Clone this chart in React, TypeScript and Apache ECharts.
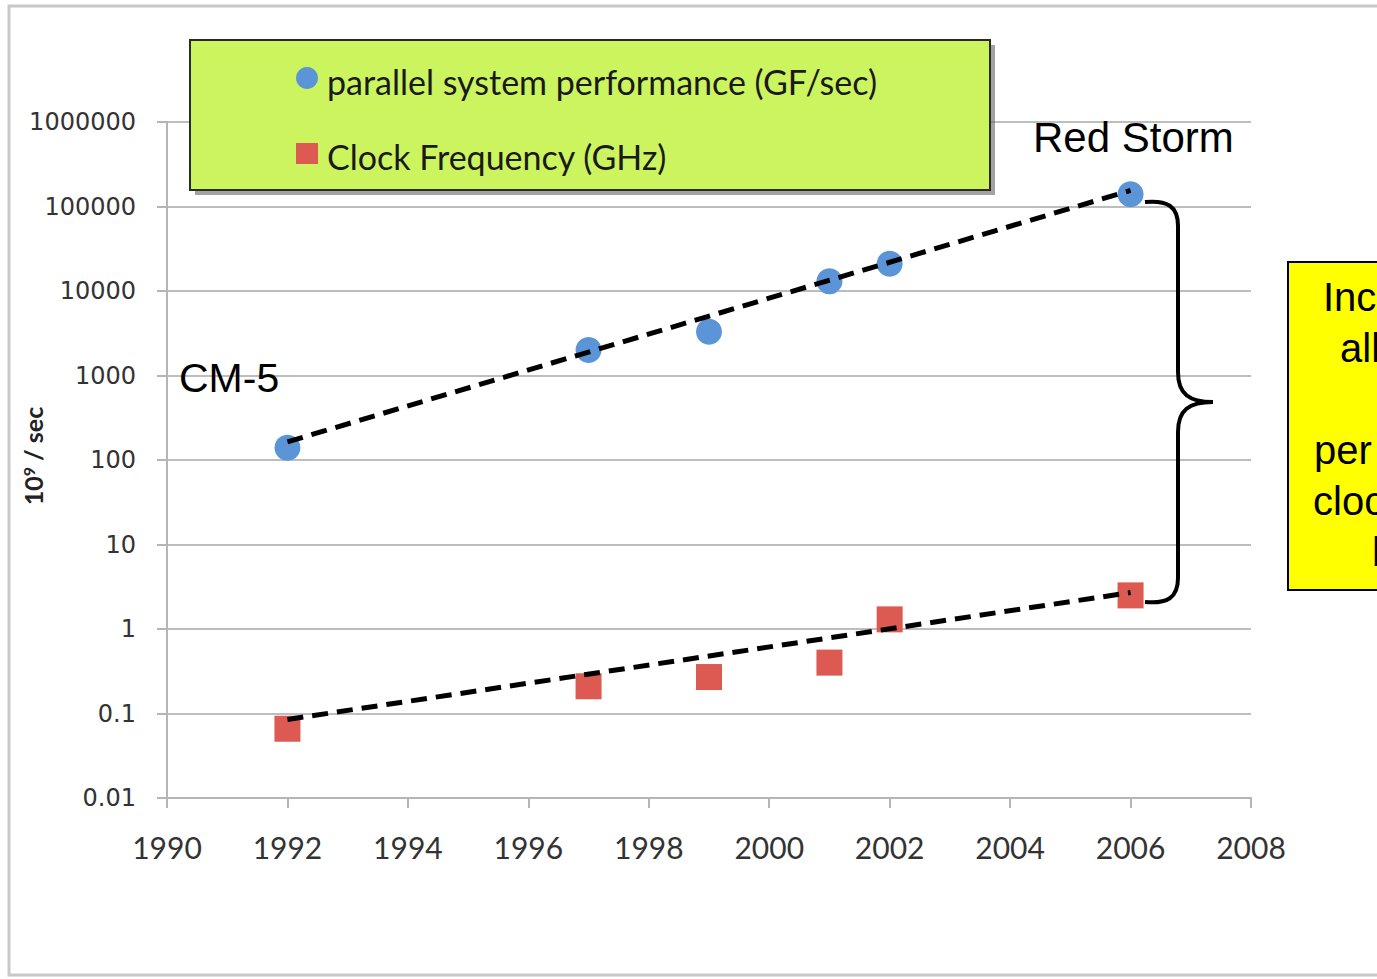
import React, { useEffect, useRef } from "react";
import * as echarts from "echarts";

const years = [1992, 1997, 1999, 2001, 2002, 2006];
const perfValues = [140, 2000, 3300, 13000, 21000, 140000];
const clockValues = [0.066, 0.21, 0.27, 0.4, 1.3, 2.5];
const perfTrend: [number, number][] = [[1992, 164], [2006, 155000]];
const clockTrend: [number, number][] = [[1992, 0.085], [2006, 2.7]];
const legendLabels = ["parallel system performance (GF/sec)", "Clock Frequency (GHz)"];
const noteLines = ["Increase", "all", "", "per", "clock", "b"];
const noteX = [1323, 1340, 1340, 1314, 1313, 1372];

const BLUE = "#5b95d8";
const RED = "#dc5a52";

export default function App() {
  const ref = useRef<HTMLDivElement>(null);
  useEffect(() => {
    document.body.style.margin = "0";
    const chart = echarts.init(ref.current!, null, { renderer: "svg" });
    echarts.graphic.registerShape(
      "brace",
      echarts.graphic.extendPath(
        "M 0 2 C 22 0 33 6 33 26 L 33 172 C 33 194 44 202 68 202 C 44 202 33 210 33 232 L 33 378 C 33 398 22 404 0 402",
        {}
      )
    );
    chart.setOption({
      animation: false,
      backgroundColor: "#ffffff",
      grid: { left: 167, right: 126, top: 122, bottom: 181 },
      xAxis: {
        type: "value",
        min: 1990,
        max: 2008,
        interval: 2,
        axisLine: { show: true, lineStyle: { color: "#b5b5b5", width: 2 } },
        axisTick: { show: true, length: 10, lineStyle: { color: "#b5b5b5", width: 2 } },
        splitLine: { show: false },
        axisLabel: {
          color: "#333",
          fontFamily: "Lato",
          fontSize: 30,
          margin: 34,
          formatter: (v: number) => String(v),
        },
      },
      yAxis: {
        type: "log",
        min: 0.01,
        max: 1000000,
        logBase: 10,
        axisLine: { show: true, lineStyle: { color: "#b5b5b5", width: 2 } },
        axisTick: { show: true, inside: false, length: 10, lineStyle: { color: "#b5b5b5", width: 2 } },
        splitLine: { show: true, lineStyle: { color: "#bdbdbd", width: 2 } },
        minorTick: { show: false },
        axisLabel: {
          color: "#333",
          fontFamily: "DejaVu Sans",
          fontSize: 24,
          margin: 31,
          formatter: (v: number) => (v < 1 ? String(Number(v.toPrecision(2))) : String(Math.round(v))),
        },
      },
      series: [
        {
          type: "line",
          data: perfTrend,
          symbol: "none",
          lineStyle: { color: "#000", width: 5, type: [16, 9] },
          z: 5,
        },
        {
          type: "line",
          data: clockTrend,
          symbol: "none",
          lineStyle: { color: "#000", width: 5, type: [16, 9] },
          z: 5,
        },
        {
          type: "scatter",
          data: years.map((y, i) => [y, perfValues[i]]),
          symbol: "circle",
          symbolSize: 26,
          itemStyle: { color: BLUE, opacity: 1 },
          z: 3,
        },
        {
          type: "scatter",
          data: years.map((y, i) => [y, clockValues[i]]),
          symbol: "rect",
          symbolSize: 26,
          itemStyle: { color: RED, opacity: 1 },
          z: 3,
        },
      ],
      graphic: [
        {
          type: "rect",
          shape: { x: 9, y: 6, width: 1400, height: 969 },
          style: { fill: "none", stroke: "#c8c8c8", lineWidth: 3 },
          z: 1,
        },
        {
          type: "rect",
          shape: { x: 195, y: 45, width: 800, height: 150 },
          style: { fill: "#666", opacity: 0.6 },
          z: 10,
        },
        {
          type: "rect",
          shape: { x: 190, y: 40, width: 800, height: 150 },
          style: { fill: "#ccf45e", stroke: "#2a2a2a", lineWidth: 2 },
          z: 11,
        },
        {
          type: "circle",
          shape: { cx: 307, cy: 78, r: 11 },
          style: { fill: BLUE },
          z: 12,
        },
        {
          type: "rect",
          shape: { x: 296, y: 143, width: 22, height: 21 },
          style: { fill: RED },
          z: 12,
        },
        {
          type: "text",
          x: 327,
          y: 81,
          style: {
            text: legendLabels[0],
            font: "34px Lato",
            fill: "#1a1a1a",
            verticalAlign: "middle",
          },
          z: 12,
        },
        {
          type: "text",
          x: 327,
          y: 156,
          style: {
            text: legendLabels[1],
            font: "34px Lato",
            fill: "#1a1a1a",
            verticalAlign: "middle",
          },
          z: 12,
        },
        {
          type: "text",
          x: 1033,
          y: 137,
          style: { text: "Red Storm", font: "42px 'Liberation Sans'", fill: "#000", verticalAlign: "middle" },
          z: 12,
        },
        {
          type: "text",
          x: 179,
          y: 378,
          style: { text: "CM-5", font: "41px 'Liberation Sans'", fill: "#000", verticalAlign: "middle" },
          z: 12,
        },
        {
          type: "text",
          x: 33,
          y: 456,
          rotation: Math.PI / 2,
          style: {
            text: "{b|10}{s|9}{b| / sec}",
            align: "center",
            verticalAlign: "middle",
            rich: {
              b: { font: "bold 25px Lato", fill: "#222" },
              s: { font: "bold 16px Lato", fill: "#222", verticalAlign: "top", padding: [0, 0, 10, 0] },
            },
          },
          z: 12,
        },
        {
          type: "brace",
          x: 1145,
          y: 200,
          style: { fill: "none", stroke: "#000", lineWidth: 4 },
          z: 12,
        },
        {
          type: "rect",
          shape: { x: 1288, y: 262, width: 200, height: 328 },
          style: { fill: "#ffff00", stroke: "#000", lineWidth: 2 },
          z: 11,
        },
        ...noteLines.map((t, i) => ({
          type: "text",
          x: noteX[i],
          y: 297 + i * 51,
          style: { text: t, font: "40px 'Liberation Sans'", fill: "#000", verticalAlign: "middle" },
          z: 12,
        })),
      ],
    });
    return () => chart.dispose();
  }, []);
  return <div ref={ref} style={{ width: 1377, height: 979 }} />;
}
